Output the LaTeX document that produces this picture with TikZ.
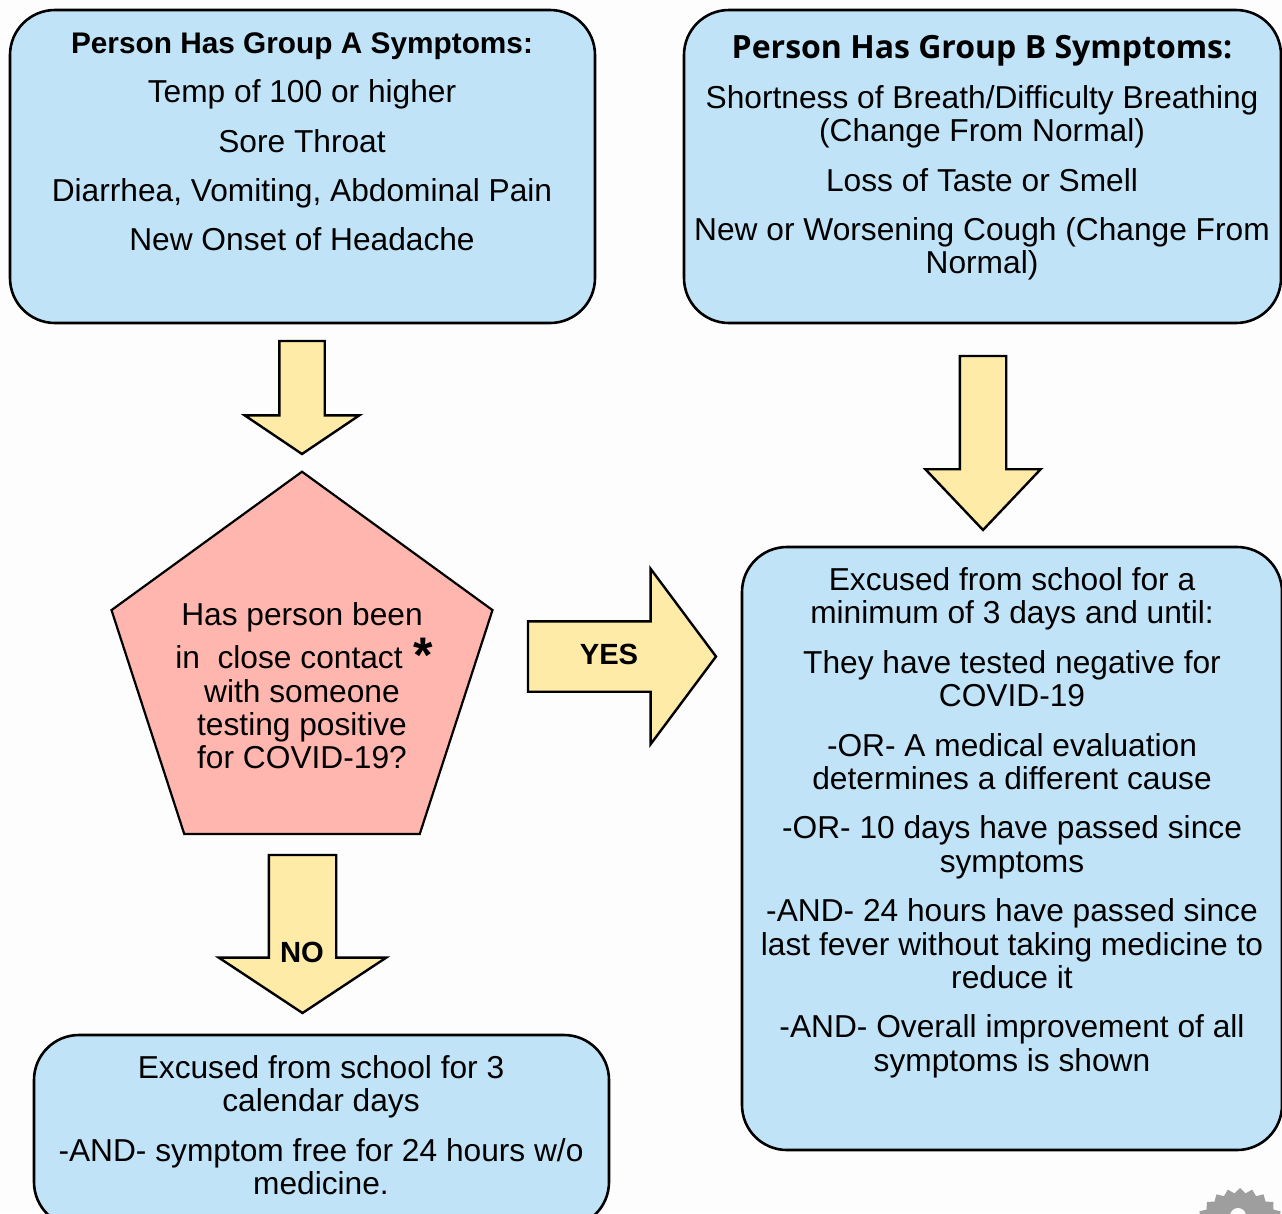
\documentclass[tikz,border=0pt]{standalone}
\usepackage{fontspec}
\setmainfont{Liberation Sans}
\newfontfamily\headfont{Open Sans}
\usetikzlibrary{shapes.geometric,shapes.arrows}
\definecolor{boxblue}{HTML}{C0E3F7}
\definecolor{arrowyellow}{HTML}{FEEBA8}
\definecolor{pentred}{HTML}{FFB6AE}
\definecolor{pagegrey}{HTML}{FDFDFD}
\definecolor{geargrey}{HTML}{9E9E9E}
\begin{document}
\begin{tikzpicture}[x=1pt,y=-1pt,align=center,outer sep=0pt,inner sep=0pt,
  every node/.append style={font=\fontsize{31.7}{33.4}\selectfont}]
\tikzstyle{infobox}=[draw=black,line width=2.6pt,fill=boxblue,rounded corners=45]
\tikzstyle{blockarrow}=[draw=black,line width=2.4pt,fill=arrowyellow,single arrow,anchor=tip]
\tikzstyle{question}=[draw=black,line width=2.2pt,fill=pentred,regular polygon,regular polygon sides=5]
\tikzstyle{boldlabel}=[font=\fontsize{29.2}{33.4}\selectfont\bfseries]
\useasboundingbox[fill=pagegrey] (0,0) rectangle (1282,1213);

% boxes
\node[infobox,minimum width=585,minimum height=313] (groupA) at (302.5,166.5) {};
\node[infobox,minimum width=597,minimum height=313] (groupB) [right of = groupA, node distance=680] {};
\node[question,minimum size=400.6] (contact) at (302,672) {};
\node[infobox,minimum width=540,minimum height=603] (excusedYes) at (1012,848.5) {};
\node[infobox,minimum width=575,minimum height=192] (excusedNo) at (321.5,1131) {};

% arrows
\node[blockarrow,rotate=270,text height=43,minimum height=113,
  single arrow head extend=34.5,single arrow tip angle=112] (arrowA) at (302,454) {};
\node[blockarrow,rotate=270,text height=44,minimum height=174,
  single arrow head extend=34.5,single arrow tip angle=87] (arrowB) at (983,530) {};
\node[blockarrow,text height=68,minimum height=188,
  single arrow head extend=52.5,single arrow tip angle=106.6] (arrowYes) at (716,656.5) {};
\node[blockarrow,rotate=270,text height=65,minimum height=158,
  single arrow head extend=50,single arrow tip angle=113] (arrowNo) at (302.5,1013) {};

% texts
\node[anchor=north] (groupAtext) at (302,32.4) {{\fontsize{29.8}{33.4}\selectfont\bfseries Person Has Group A Symptoms:}\\[16pt]
  Temp of 100 or higher\\[16pt] Sore Throat\\[16pt]
  Diarrhea, Vomiting, Abdominal Pain\\[16pt] New Onset of Headache};
\node[anchor=north] (groupBtext) at (982,35.8) {{\headfont\bfseries\fontsize{32}{33.4}\selectfont Person Has Group B Symptoms:}\\[16pt]
  Shortness of Breath/Difficulty Breathing\\ (Change From Normal)\\[16pt]
  Loss of Taste or Smell\\[16pt]
  New or Worsening Cough (Change From\\ Normal)};
\node[anchor=north] (contacttext) at (302,602.8) {Has person been\\[9.6pt]
  in\ \ close contact\makebox[26pt]{}\\ with someone\\ testing positive\\ for COVID-19?};
\node (star) at (423,655) {\fontsize{50}{50}\selectfont\bfseries *};
\node[boldlabel] (yes) at (609,654) {YES};
\node[boldlabel] (no) at (302,952) {NO};
\node[anchor=north] (excusedYestext) at (1012,567.5) {Excused from school for a\\ minimum of 3 days and until:\\[16pt]
  They have tested negative for\\ COVID-19\\[16pt]
  -OR- A medical evaluation\\ determines a different cause\\[16pt]
  -OR- 10 days have passed since\\ symptoms\\[16pt]
  -AND- 24 hours have passed since\\ last fever without taking medicine to\\ reduce it\\[16pt]
  -AND- Overall improvement of all\\ symptoms is shown};
\node[anchor=north] (excusedNotext) at (321,1055.5) {Excused from school for 3\\ calendar days\\[16pt]
  -AND- symptom free for 24 hours w/o\\ medicine.};

% logo in the corner
\node[star,star points=24,star point ratio=1.12,minimum size=94,fill=geargrey] (gear) at (1240,1235) {};
\node[circle,minimum size=16,fill=pagegrey] (gearhole) at (1238,1216) {};
\end{tikzpicture}
\end{document}
